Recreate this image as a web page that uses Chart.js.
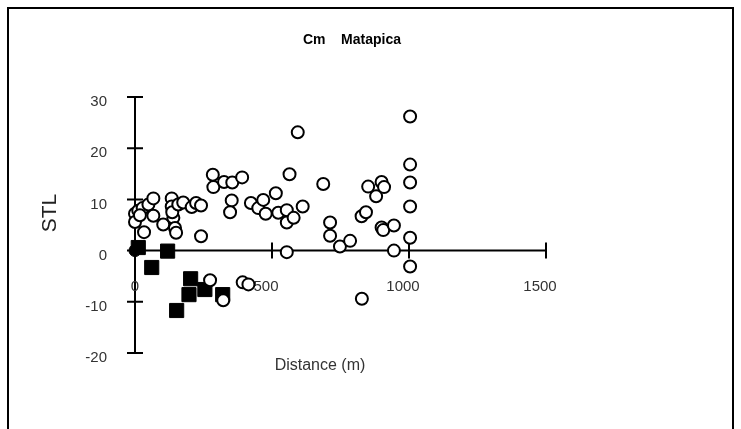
<!DOCTYPE html>
<html>
<head>
<meta charset="utf-8">
<script src="https://cdn.jsdelivr.net/npm/chart.js@4"></script>
<style>
  html, body { margin: 0; padding: 0; background: #fff; }
  #wrap { width: 741px; height: 429px; }
</style>
</head>
<body>
<div id="wrap"><canvas id="chart" width="741" height="429"></canvas></div>
<script>
// open circles
const circleX = [0, 12, 28, 49, 67, 0, 18, 67, 33, 103, 134, 134, 140, 146, 150, 136, 158, 176, 207, 223,
  241, 241, 284, 286, 325, 355, 391, 353, 347, 423, 450, 468, 477, 514, 523, 554, 554, 579, 612, 564,
  594, 554, 687, 712, 712, 748, 785, 827, 843, 851, 900, 909, 880, 900, 906, 945, 945, 1004, 1004, 1004,
  1004, 1004, 1004, 828, 274, 322, 393, 414];
const circleY = [7.2, 7.8, 8.3, 9.0, 10.2, 5.6, 6.9, 6.8, 3.6, 5.1, 10.2, 8.6, 6.4, 4.4, 3.5, 7.5, 9.0, 9.4, 8.5, 9.3,
  8.8, 2.8, 14.8, 12.4, 13.4, 13.3, 14.3, 9.8, 7.5, 9.3, 8.3, 9.9, 7.2, 11.2, 7.4, 7.9, 5.5, 6.4, 8.6, 14.9,
  23.1, -0.3, 13.0, 5.5, 2.9, 0.8, 1.9, 6.7, 7.5, 12.5, 13.4, 12.4, 10.6, 4.5, 4.0, 4.9, 0, 26.2, 16.8, 13.3,
  8.6, 2.5, -3.1, -9.4, -5.8, -9.7, -6.2, -6.6];

// filled squares
const squareX = [12, 119, 61, 203, 197, 255, 320, 152];
const squareY = [0.6, -0.1, -3.3, -5.5, -8.6, -7.6, -8.6, -11.7];

// filled circle
const dotX = [0];
const dotY = [0];

const xTicks = [0, 500, 1000, 1500];
const yTicks = [-20, -10, 0, 10, 20, 30];

const chartTitle = "Cm    Matapica";
const xTitle = "Distance (m)";
const yTitle = "STL";

function toPoints(xs, ys) {
  return xs.map((x, i) => ({ x: x, y: ys[i] }));
}

// axes crossing at zero, with cross ticks, drawn from the scales
const axesPlugin = {
  id: "excelAxes",
  beforeDatasetsDraw(chart) {
    const ctx = chart.ctx;
    const xs = chart.scales.x;
    const ys = chart.scales.y;
    const x0 = xs.getPixelForValue(0);
    const y0 = ys.getPixelForValue(0);
    ctx.save();

    // outer frame
    ctx.strokeStyle = "#000";
    ctx.lineWidth = 2;
    ctx.strokeRect(8, 8, 725, 440);

    // title
    ctx.fillStyle = "#000";
    ctx.font = "bold 14px 'Liberation Sans', Arial, sans-serif";
    ctx.textAlign = "center";
    ctx.textBaseline = "middle";
    ctx.fillText(chartTitle, 352, 40);

    // axis lines
    ctx.lineWidth = 2;
    ctx.beginPath();
    ctx.moveTo(x0, ys.getPixelForValue(ys.max));
    ctx.lineTo(x0, ys.getPixelForValue(ys.min));
    ctx.moveTo(xs.getPixelForValue(xs.min), y0);
    ctx.lineTo(xs.getPixelForValue(xs.max), y0);
    yTicks.forEach(v => {
      const py = ys.getPixelForValue(v);
      ctx.moveTo(x0 - 8, py);
      ctx.lineTo(x0 + 8, py);
    });
    xTicks.forEach(v => {
      if (v === 0) return;
      const px = xs.getPixelForValue(v);
      ctx.moveTo(px, y0 - 8);
      ctx.lineTo(px, y0 + 8);
    });
    ctx.stroke();

    // tick labels
    ctx.fillStyle = "#333";
    ctx.font = "15px 'Liberation Sans', Arial, sans-serif";
    ctx.textAlign = "right";
    yTicks.forEach(v => {
      ctx.fillText(String(v), 107, ys.getPixelForValue(v) + 5);
    });
    ctx.textAlign = "center";
    xTicks.forEach(v => {
      const off = v === 0 ? 0 : -6;
      ctx.fillText(String(v), xs.getPixelForValue(v) + off, y0 + 36);
    });

    // axis titles
    ctx.font = "16px 'Liberation Sans', Arial, sans-serif";
    ctx.fillText(xTitle, 320, 366);
    ctx.save();
    ctx.translate(50, 213);
    ctx.rotate(-Math.PI / 2);
    ctx.fillStyle = "#222";
    ctx.font = "21px 'Liberation Sans', Arial, sans-serif";
    ctx.fillText(yTitle, 0, 0);
    ctx.restore();

    ctx.restore();
  }
};

new Chart(document.getElementById("chart"), {
  type: "scatter",
  data: {
    datasets: [
      {
        data: toPoints(circleX, circleY),
        pointStyle: "circle",
        pointRadius: 6,
        pointBackgroundColor: "#fff",
        pointBorderColor: "#000",
        pointBorderWidth: 2,
        clip: false
      },
      {
        data: toPoints(squareX, squareY),
        pointStyle: "rect",
        pointRadius: 10,
        pointBackgroundColor: "#000",
        pointBorderColor: "#000",
        pointBorderWidth: 1,
        clip: false
      },
      {
        data: toPoints(dotX, dotY),
        pointStyle: "circle",
        pointRadius: 6,
        pointBackgroundColor: "#000",
        pointBorderColor: "#000",
        pointBorderWidth: 1,
        clip: false
      }
    ]
  },
  options: {
    responsive: false,
    animation: false,
    layout: { padding: { left: 135, right: 195, top: 97, bottom: 76 } },
    plugins: { legend: { display: false }, tooltip: { enabled: false } },
    scales: {
      x: { type: "linear", min: 0, max: 1500, display: false },
      y: { type: "linear", min: -20, max: 30, display: false }
    }
  },
  plugins: [axesPlugin]
});
</script>
</body>
</html>
